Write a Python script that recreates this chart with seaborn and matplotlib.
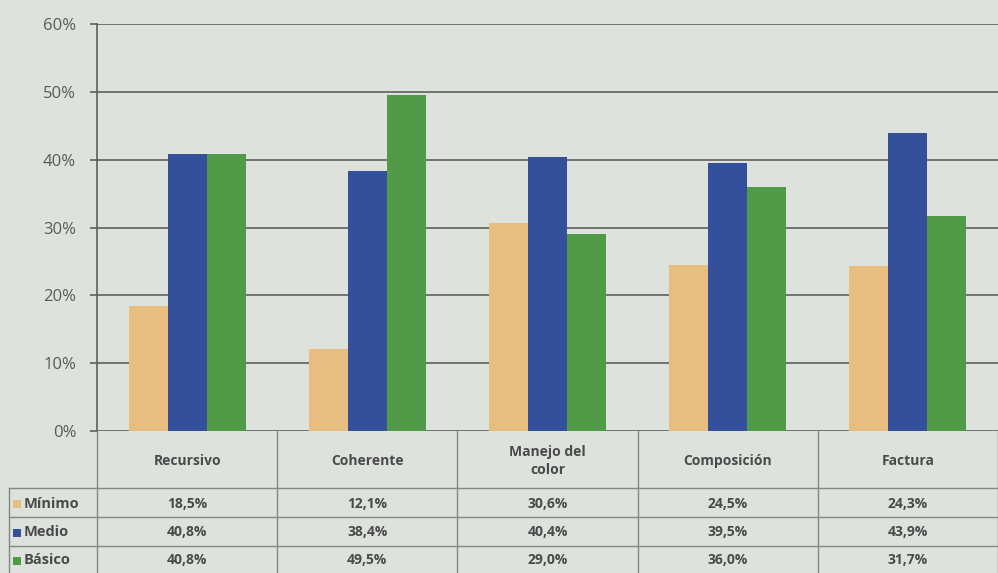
import matplotlib
matplotlib.use("Agg")
import matplotlib.pyplot as plt
import seaborn as sns
import pandas as pd

categories = ["Recursivo", "Coherente", "Manejo del\ncolor", "Composición", "Factura"]
series = ["Mínimo", "Medio", "Básico"]
minimo = [18.5, 12.1, 30.6, 24.5, 24.3]
medio = [40.8, 38.4, 40.4, 39.5, 43.9]
basico = [40.8, 49.5, 29.0, 36.0, 31.7]
colors = ["#e8bd80", "#34509a", "#519a48"]
yticks = [0, 10, 20, 30, 40, 50, 60]
ytick_labels = ["0%", "10%", "20%", "30%", "40%", "50%", "60%"]

values = [minimo, medio, basico]
rows = []
for s, vals in zip(series, values):
    for c, v in zip(categories, vals):
        rows.append({"cat": c, "series": s, "val": v})
df = pd.DataFrame(rows)

sns.set_theme(style="white")
plt.rcParams["font.family"] = ["Open Sans", "DejaVu Sans"]

bg = "#dde2dd"
grid_c = "#5e5e5e"
line_c = "#868686"
text_c = "#4a4a4a"

W, H = 998, 573
fig = plt.figure(figsize=(W / 100, H / 100), dpi=100)
fig.patch.set_facecolor(bg)

ax = fig.add_axes([97 / W, (H - 431) / H, 901 / W, (431 - 24) / H])
ax.set_facecolor(bg)
sns.barplot(data=df, x="cat", y="val", hue="series", hue_order=series,
            order=categories, palette=colors, width=0.65, saturation=1,
            ax=ax, legend=False, edgecolor="none")
ax.set_xlim(-0.5, 4.5)
ax.set_ylim(0, 60)
ax.set_yticks(yticks)
ax.set_yticklabels(ytick_labels, color="#5a5a5a", fontsize=12)
ax.set_xticks([])
ax.set_xlabel("")
ax.set_ylabel("")
ax.yaxis.grid(True, color=grid_c, linewidth=1.2)
ax.set_axisbelow(True)
ax.tick_params(axis="y", length=5, color=grid_c, width=1.2, pad=10, left=True)
for sp in ["top", "right", "bottom"]:
    ax.spines[sp].set_visible(False)
ax.spines["left"].set_color(grid_c)
ax.spines["left"].set_linewidth(1.2)

# data table below the plot, sharing the category x scale
tax = fig.add_axes([97 / W, 0, 901 / W, (H - 431) / H], sharex=ax)
tax.set_facecolor(bg)
tax.patch.set_alpha(0)
tax.set_ylim(142, 0)
tax.axis("off")
left_x = -0.5 - 88 / 180.2
row_y = [57, 86, 115, 142]
for i in range(6):
    tax.plot([i - 0.5, i - 0.5], [0, 142], color=line_c, lw=1, clip_on=False)
tax.plot([left_x, left_x], [57, 142], color=line_c, lw=1, clip_on=False)
for y in row_y[:3]:
    tax.plot([left_x, 4.5], [y, y], color=line_c, lw=1, clip_on=False)

for i, c in enumerate(categories):
    tax.text(i, 30, c, ha="center", va="center", fontsize=10,
             fontweight="bold", color=text_c, linespacing=1.45)

for r, (s, vals, col) in enumerate(zip(series, values, colors)):
    yc = (row_y[r] + row_y[r + 1]) / 2 + 1
    tax.scatter([left_x + 0.042], [yc], marker="s", s=28, color=col,
                clip_on=False, linewidths=0)
    tax.text(left_x + 0.08, yc, s, ha="left", va="center", fontsize=10.5,
             fontweight="bold", color=text_c, clip_on=False)
    for i, v in enumerate(vals):
        tax.text(i, yc, f"{v:.1f}%".replace(".", ","), ha="center",
                 va="center", fontsize=10, fontweight="bold", color=text_c)

fig.savefig("out.png", dpi=100, facecolor=bg)
